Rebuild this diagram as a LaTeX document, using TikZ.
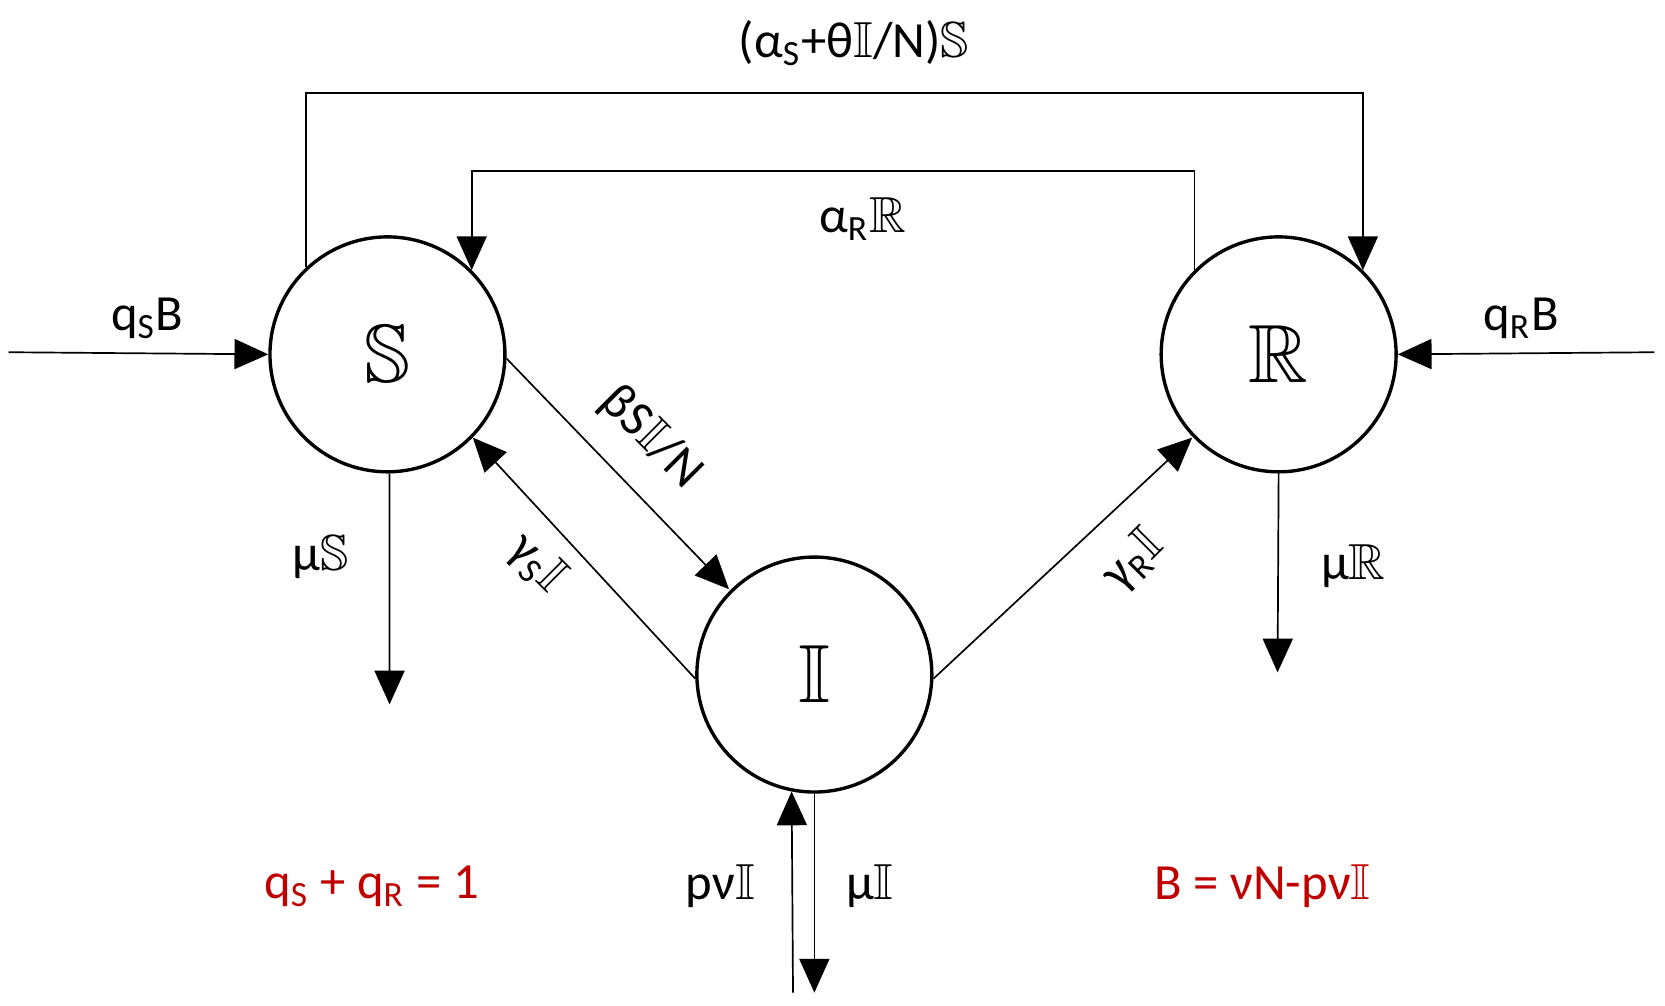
\documentclass[tikz,border=0pt]{standalone}
\usepackage{amssymb}
\usepackage{fontspec}
\setmainfont{Carlito}
\usetikzlibrary{arrows.meta}
\begin{document}
\begin{tikzpicture}[x=0.01cm,y=-0.01cm,
  st/.style={circle,draw,line width=0.9pt,minimum size=2.2cm,inner sep=0pt,font=\fontsize{22}{24}\selectfont},
  ln/.style={line width=0.45pt},
  ar/.style={ln,-{Triangle[length=9pt,width=8pt]}},
  lb/.style={font=\fontsize{13.5}{15}\selectfont},
  rd/.style={lb,text={rgb,255:red,192;green,0;blue,0}}]
\useasboundingbox (0,0) rectangle (1560,942);
\node[st] (S) at (363,332) {$\mathbb{S}$};
\node[st] (R) at (1198,332) {$\mathbb{R}$};
\node[st] (I) at (763,632) {$\mathbb{I}$};
\coordinate (m1) at (800,87); \coordinate (m2) at (800,160);
\draw[ar] (S.133.7) |- (m1) -| (R.45.6);
\draw[ar] (R.135.2) |- (m2) -| (S.45.6);
\node[lb] (l1) at (800,40) {(α\textsubscript{S}+θ$\mathbb{I}$/N)$\mathbb{S}$};
\node[lb] (l2) at (808,205) {α\textsubscript{R}$\mathbb{R}$};
\coordinate (qs) at (8,330); \coordinate (qr) at (1550,330);
\draw[ar] (qs) -- (S.west);
\draw[ar] (qr) -- (R.east);
\node[lb] (l3) at (138,298) {q\textsubscript{S}B};
\node[lb] (l4) at (1425,298) {q\textsubscript{R}B};
\coordinate (ia) at (683,552); \coordinate (sa) at (443,410); \coordinate (ra) at (1117,410);
\draw[ar] (S.-2) -- (ia);
\draw[ar] (I.182) -- (sa);
\draw[ar] (I.-2) -- (ra);
\node[lb,rotate=-45] (l5) at (610,410) {βS$\mathbb{I}$/N};
\node[lb,rotate=-45] (l6) at (503,528) {γ\textsubscript{S}$\mathbb{I}$};
\node[lb,rotate=45] (l7) at (1062,525) {γ\textsubscript{R}$\mathbb{I}$};
\coordinate (sd) at (365,660); \coordinate (rdn) at (1197,630);
\draw[ar] (S.271) -- (sd);
\draw[ar] (R.270) -- (rdn);
\node[lb] (l8) at (300,522) {μ$\mathbb{S}$};
\node[lb] (l9) at (1268,530) {μ$\mathbb{R}$};
\coordinate (ib1) at (743,930); \coordinate (ib2) at (763,930);
\draw[ar] (ib1) -- (I.259.5);
\draw[ar] (I.south) -- (ib2);
\node[lb] (l10) at (675,830) {pν$\mathbb{I}$};
\node[lb] (l11) at (815,830) {μ$\mathbb{I}$};
\node[rd] (r1) at (348,830) {q\textsubscript{S} + q\textsubscript{R} = 1};
\node[rd] (r2) at (1183,830) {B = νN-pν$\mathbb{I}$};
\end{tikzpicture}
\end{document}
